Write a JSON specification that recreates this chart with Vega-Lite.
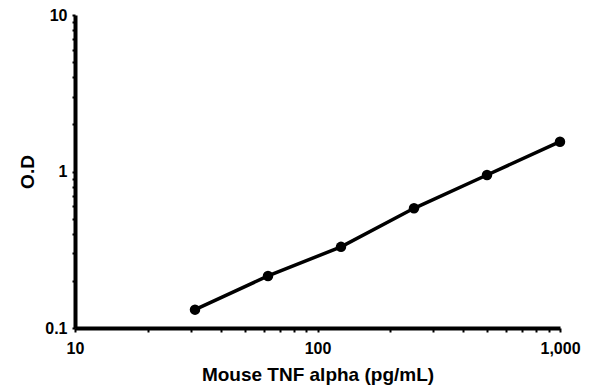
{
  "$schema": "https://vega.github.io/schema/vega-lite/v6.json",
  "width": 485,
  "height": 313,
  "autosize": {"type": "none"},
  "padding": {"left": 75, "top": 15, "right": 35, "bottom": 63},
  "background": "white",
  "config": {
    "view": {"stroke": null},
    "font": "Liberation Sans",
    "axis": {
      "grid": false,
      "domainColor": "black",
      "domainWidth": 4,
      "tickColor": "black",
      "tickWidth": 2,
      "tickSize": 4,
      "labelFont": "Liberation Sans",
      "labelFontWeight": "bold",
      "labelFontSize": 16,
      "labelColor": "black",
      "titleFont": "Liberation Sans",
      "titleFontWeight": "bold",
      "titleFontSize": 19,
      "titleColor": "black"
    }
  },
  "data": {
    "values": [
      {"conc": 31.25, "od": 0.131},
      {"conc": 62.5, "od": 0.215},
      {"conc": 125, "od": 0.33},
      {"conc": 250, "od": 0.582},
      {"conc": 500, "od": 0.95},
      {"conc": 1000, "od": 1.55}
    ]
  },
  "encoding": {
    "x": {
      "field": "conc",
      "type": "quantitative",
      "scale": {"type": "log", "domain": [10, 1000], "nice": false},
      "axis": {
        "title": "Mouse TNF alpha (pg/mL)",
        "values": [10, 20, 30, 40, 50, 60, 70, 80, 90, 100, 200, 300, 400, 500, 600, 700, 800, 900, 1000],
        "labelExpr": "datum.value == 10 ? '10' : datum.value == 100 ? '100' : datum.value == 1000 ? '1,000' : ''",
        "labelPadding": 8,
        "titlePadding": 9,
        "labelOverlap": false,
        "labelFlush": false
      }
    },
    "y": {
      "field": "od",
      "type": "quantitative",
      "scale": {"type": "log", "domain": [0.1, 10], "nice": false},
      "axis": {
        "title": "O.D",
        "values": [0.1, 0.2, 0.3, 0.4, 0.5, 0.6, 0.7, 0.8, 0.9, 1, 2, 3, 4, 5, 6, 7, 8, 9, 10],
        "labelExpr": "datum.value == 0.1 ? '0.1' : datum.value == 1 ? '1' : datum.value == 10 ? '10' : ''",
        "tickSize": 3,
        "labelPadding": 5,
        "titlePadding": 7,
        "labelOverlap": false,
        "labelFlush": false
      }
    }
  },
  "layer": [
    {"mark": {"type": "line", "color": "black", "strokeWidth": 3.5}},
    {"mark": {"type": "point", "filled": true, "color": "black", "opacity": 1, "size": 110}}
  ]
}
